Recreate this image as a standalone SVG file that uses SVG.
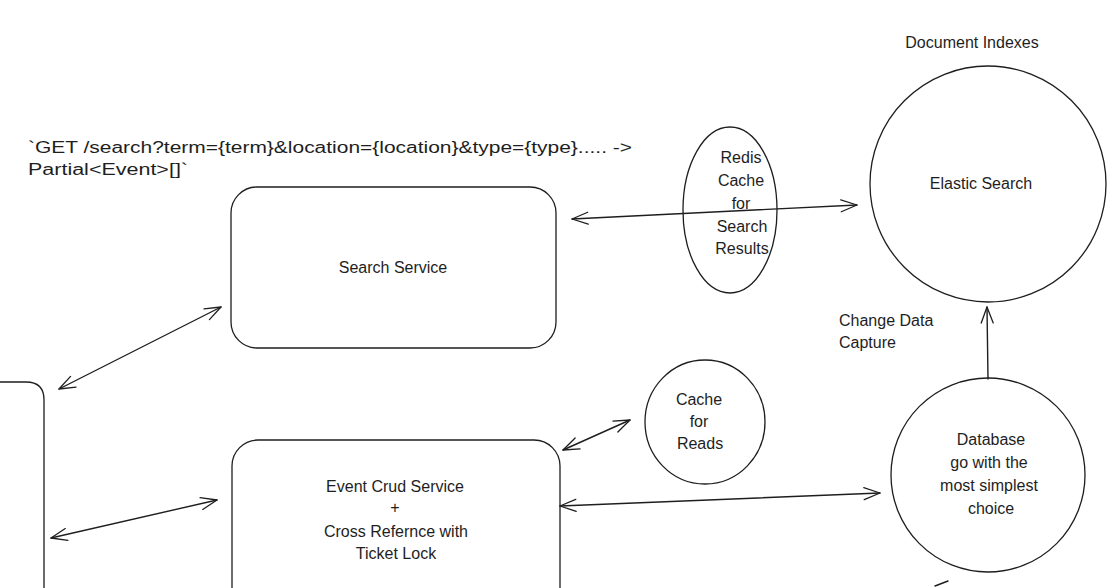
<svg xmlns="http://www.w3.org/2000/svg" width="1118" height="588" viewBox="0 0 1118 588">
  <defs>
    <style>
      .shape { fill: none; stroke: #1e1e1e; stroke-width: 1.3; }
      .wire { fill: none; stroke: #1e1e1e; stroke-width: 1.4; stroke-linecap: round; }
      .label { font-family: "Liberation Sans", "DejaVu Sans", sans-serif; font-size: 16px; fill: #1e1e1e; }
      .mid { text-anchor: middle; }
    </style>
    <marker id="head" viewBox="0 0 20 20" refX="18" refY="10" markerWidth="20" markerHeight="20" markerUnits="userSpaceOnUse" orient="auto-start-reverse">
      <path d="M2,4 L18,10 L2,16" fill="none" stroke="#1e1e1e" stroke-width="1.3" stroke-linecap="round" stroke-linejoin="round"/>
    </marker>
  </defs>

  <rect width="1118" height="588" fill="#ffffff"/>

  <!-- request signature -->
  <g id="api-note">
    <text class="label" x="28" y="153" textLength="604" lengthAdjust="spacingAndGlyphs">`GET /search?term={term}&amp;location={location}&amp;type={type}..... -&gt;</text>
    <text class="label" x="28" y="175" textLength="160" lengthAdjust="spacingAndGlyphs">Partial&lt;Event&gt;[]`</text>
  </g>

  <!-- client (partially visible on the left) -->
  <g id="client">
    <path class="shape" d="M-10,382 L26,382 Q44,382 44,400 L44,600"/>
  </g>

  <g id="search-service">
    <rect class="shape" x="231" y="187" width="325" height="161" rx="26" ry="26"/>
    <text class="label mid" x="393" y="273">Search Service</text>
  </g>

  <g id="event-crud-service">
    <rect class="shape" x="232" y="440" width="328" height="180" rx="26" ry="26"/>
    <text class="label mid" x="395" y="492">Event Crud Service</text>
    <text class="label mid" x="395" y="513">+</text>
    <text class="label mid" x="396" y="537">Cross Refernce with</text>
    <text class="label mid" x="396" y="559">Ticket Lock</text>
  </g>

  <g id="redis-cache">
    <ellipse class="shape" cx="730" cy="210" rx="47" ry="83"/>
    <text class="label mid" x="741" y="163">Redis</text>
    <text class="label mid" x="741" y="186">Cache</text>
    <text class="label mid" x="741" y="209">for</text>
    <text class="label mid" x="742" y="232">Search</text>
    <text class="label mid" x="742" y="254">Results</text>
  </g>

  <g id="elastic-search">
    <text class="label mid" x="972" y="48">Document Indexes</text>
    <circle class="shape" cx="988" cy="184" r="118"/>
    <text class="label mid" x="981" y="189">Elastic Search</text>
  </g>

  <g id="read-cache">
    <ellipse class="shape" cx="705" cy="422" rx="60" ry="62"/>
    <text class="label mid" x="699" y="405">Cache</text>
    <text class="label mid" x="699" y="427">for</text>
    <text class="label mid" x="700" y="449">Reads</text>
  </g>

  <g id="database">
    <circle class="shape" cx="988" cy="475" r="97"/>
    <text class="label mid" x="991" y="445">Database</text>
    <text class="label mid" x="989" y="468">go with the</text>
    <text class="label mid" x="989" y="491">most simplest</text>
    <text class="label mid" x="991" y="514">choice</text>
  </g>

  <g id="cdc-note">
    <text class="label" x="839" y="326">Change Data</text>
    <text class="label" x="839" y="348">Capture</text>
  </g>

  <!-- connectors -->
  <g id="connectors">
    <line class="wire" x1="572" y1="219" x2="857" y2="205" marker-start="url(#head)" marker-end="url(#head)"/>
    <line class="wire" x1="59" y1="389" x2="221" y2="307" marker-start="url(#head)" marker-end="url(#head)"/>
    <line class="wire" x1="51" y1="538" x2="217" y2="500" marker-start="url(#head)" marker-end="url(#head)"/>
    <line class="wire" x1="563" y1="450" x2="630" y2="420" marker-start="url(#head)" marker-end="url(#head)"/>
    <line class="wire" x1="560" y1="506" x2="880" y2="493" marker-start="url(#head)" marker-end="url(#head)"/>
    <line class="wire" x1="988" y1="379" x2="987" y2="307" marker-end="url(#head)"/>
    <path class="wire" d="M935,586 L948,581"/>
  </g>
</svg>
